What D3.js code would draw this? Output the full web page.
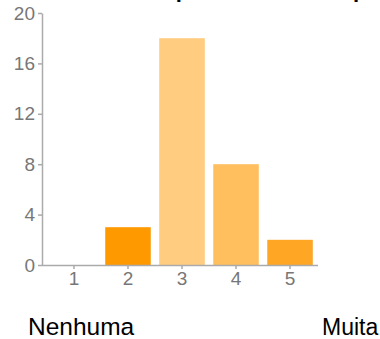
<!DOCTYPE html>
<html>
<head>
<meta charset="utf-8">
<script src="https://cdn.jsdelivr.net/npm/d3@7"></script>
<style>
  body { margin: 0; background: #fff; }
  text { font-family: "Liberation Sans", Arial, sans-serif; }
</style>
</head>
<body>
<script>
  // values
  const categories = [1, 2, 3, 4, 5];
  const counts = [0, 3, 18, 8, 2];
  const barColors = ["#ff9900", "#ff9900", "#ffcc80", "#ffbf5e", "#ffa624"];
  const yTicks = [0, 4, 8, 12, 16, 20];
  const endLabels = ["Nenhuma", "Muita"];

  const w = 380, h = 339;

  const svg = d3.select("body").append("svg")
    .attr("width", w)
    .attr("height", h);

  // title is cut off at the top, only descenders show
  svg.append("text")
    .attr("x", 150)
    .attr("y", -3.5)
    .style("font-size", "22px")
    .style("font-weight", "bold")
    .text("Importância do tempo de espera na página");

  const x = d3.scaleBand()
    .domain(categories)
    .range([47, 317])
    .paddingInner(0.157)
    .paddingOuter(0.078);

  const y = d3.scaleLinear()
    .domain([0, 20])
    .range([265, 13]);

  // bars
  svg.selectAll("rect.bar")
    .data(categories)
    .enter().append("rect")
    .attr("class", "bar")
    .attr("x", d => x(d))
    .attr("width", x.bandwidth())
    .attr("y", (d, i) => y(counts[i]))
    .attr("height", (d, i) => y(0) - y(counts[i]))
    .attr("fill", (d, i) => barColors[i]);

  // y axis
  const yAxis = svg.append("g")
    .attr("transform", "translate(42,0)")
    .call(d3.axisLeft(y).tickValues(yTicks).tickSize(4).tickPadding(3).tickSizeOuter(0));
  yAxis.select(".domain").attr("stroke", "#aaa").attr("stroke-width", 1.5);
  yAxis.selectAll(".tick line").attr("stroke", "#aaa").attr("stroke-width", 1.5);
  yAxis.selectAll(".tick text")
    .attr("fill", "#777")
    .style("font-size", "19px")
    .style("font-family", "'Liberation Sans', Arial, sans-serif");

  // x axis
  const xAxis = svg.append("g")
    .attr("transform", "translate(0,265)")
    .call(d3.axisBottom(x).tickSize(4).tickPadding(3).tickSizeOuter(0));
  xAxis.select(".domain").attr("d", "M42,0.5H318").attr("stroke", "#aaa").attr("stroke-width", 1.5);
  xAxis.selectAll(".tick line").attr("stroke", "#aaa").attr("stroke-width", 1.5);
  xAxis.selectAll(".tick text")
    .attr("fill", "#777")
    .style("font-size", "19px")
    .style("font-family", "'Liberation Sans', Arial, sans-serif");

  // end labels under the scale
  svg.append("text")
    .attr("x", 28)
    .attr("y", 335)
    .style("font-size", "24.5px")
    .text(endLabels[0]);
  svg.append("text")
    .attr("x", 322)
    .attr("y", 335)
    .style("font-size", "23px")
    .text(endLabels[1]);
</script>
</body>
</html>
